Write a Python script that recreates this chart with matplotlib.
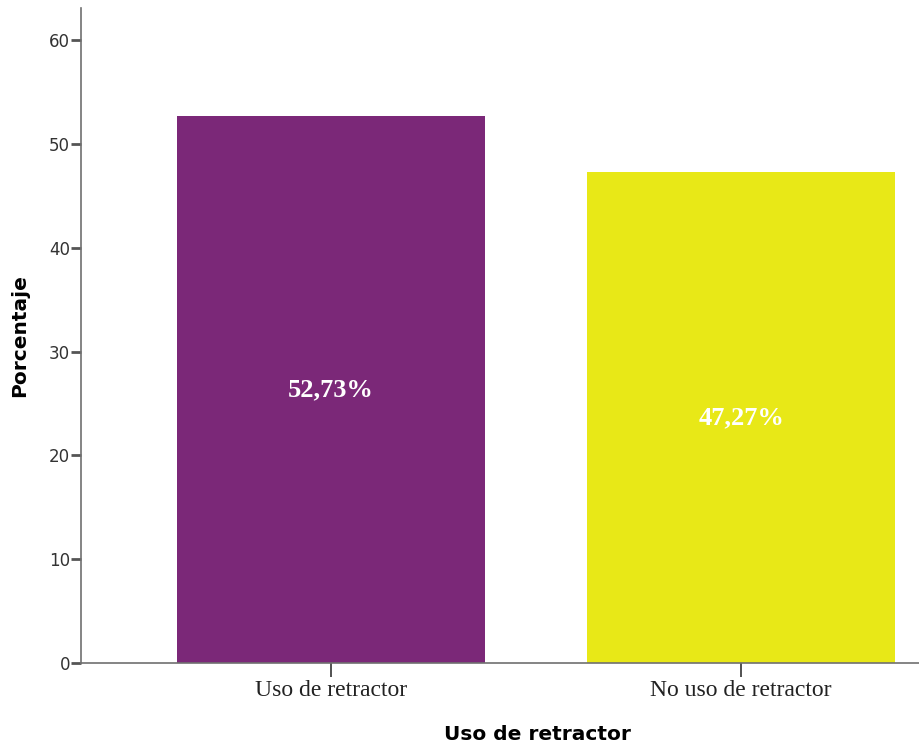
import matplotlib
matplotlib.use('Agg')
import matplotlib.pyplot as plt

categorias = ['Uso de retractor', 'No uso de retractor']
porcentajes = [52.73, 47.27]
etiquetas = ['52,73%', '47,27%']
colores = ['#7B2878', '#E8E817']
yticks = [0, 10, 20, 30, 40, 50, 60]

fig = plt.figure(figsize=(9.19, 7.46), dpi=100)
ax = fig.add_axes([81 / 919, 83 / 746, 838 / 919, 655 / 746])

x = list(range(len(categorias)))
ax.bar(x, porcentajes, width=0.751, color=colores, zorder=2)

for xi, v, txt in zip(x, porcentajes, etiquetas):
    ax.text(xi, v / 2, txt, ha='center', va='center', color='white',
            fontsize=19, fontweight='bold', family='Liberation Serif')

ax.set_xlim(-0.610, 1.434)
ax.set_ylim(0, 63.1)
ax.set_yticks(yticks)
ax.set_xticks(x)
ax.set_xticklabels(categorias, family='Liberation Serif', fontsize=17, color='#222222')

for s in ['top', 'right']:
    ax.spines[s].set_visible(False)
for s in ['left', 'bottom']:
    ax.spines[s].set_color('#707070')
    ax.spines[s].set_linewidth(1.2)

ax.tick_params(axis='y', length=7, width=2, color='#555555', labelsize=12,
               labelcolor='#333333', pad=1)
ax.tick_params(axis='x', length=10, width=1.2, color='#333333', pad=2)

ax.set_ylabel('Porcentaje', fontsize=14.5, fontweight='bold')
ax.set_xlabel('Uso de retractor', fontsize=14.5, fontweight='bold')
ax.xaxis.set_label_coords(0.545, -0.095)
ax.yaxis.set_label_coords(-0.062, 0.5)

fig.savefig('out.png', dpi=100)
